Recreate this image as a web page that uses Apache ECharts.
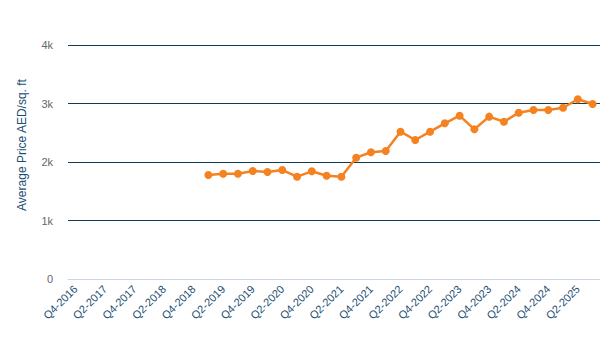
<!DOCTYPE html>
<html><head><meta charset="utf-8">
<script src="https://cdn.jsdelivr.net/npm/echarts@6/dist/echarts.min.js"></script>
<style>html,body{margin:0;padding:0;background:#fff}#c{width:600px;height:347px}</style>
</head><body><div id="c"></div>
<script>
const categories = [];
(function(){ categories.push('Q4-2016'); for (let y=2017;y<=2025;y++){ for (let q=1;q<=4;q++){ if (y===2025 && q>3) break; categories.push('Q'+q+'-'+y);} } })();
const priceValues = [null,null,null,null,null,null,null,null,null,
 1778,1800,1800,1846,1829,1863,1749,1841,1766,1749,2074,2166,2188,
 2518,2376,2518,2661,2792,2559,2775,2689,2843,2889,2889,2928,3072,2991];
const yTicks = [0,1000,2000,3000,4000];
const chart = echarts.init(document.getElementById('c'), null, {renderer:'svg'});
chart.setOption({
  animation:false,
  grid:{left:68,right:0,top:45,bottom:68},
  xAxis:{type:'category',data:categories,boundaryGap:true,
    axisLine:{lineStyle:{color:'#ccd6eb'}},axisTick:{show:false},
    axisLabel:{interval:1,rotate:45,color:'#1b4e72',fontFamily:'Liberation Sans',fontSize:11,margin:8}},
  yAxis:{type:'value',min:0,max:4000,interval:1000,
    name:'Average Price AED/sq. ft',nameLocation:'middle',nameGap:40,
    nameTextStyle:{color:'#1b4e72',fontFamily:'Liberation Sans',fontSize:12,padding:[0,0,0,34]},
    axisLabel:{color:'#666',fontFamily:'Liberation Sans',fontSize:11,margin:15,
      formatter:v=>v===0?'0':(v/1000)+'k'},
    splitLine:{lineStyle:{color:'#0d3b5a',width:1}}},
  series:[{type:'line',data:priceValues,connectNulls:false,
    lineStyle:{color:'#f58220',width:2.5},itemStyle:{color:'#f58220'},
    symbol:'circle',symbolSize:8}]
});
</script></body></html>
